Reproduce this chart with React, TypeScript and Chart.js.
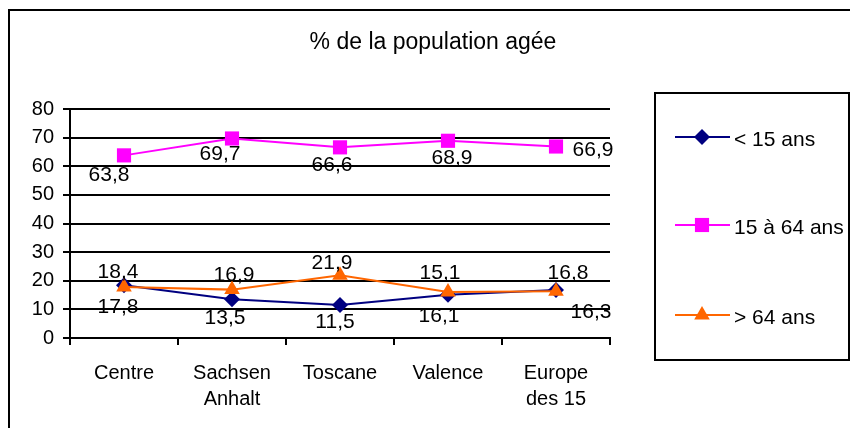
import React, { useEffect, useRef } from "react";
import { Chart, registerables } from "chart.js";

Chart.register(...registerables);

const categories: (string | string[])[] = ["Centre", ["Sachsen", "Anhalt"], "Toscane", "Valence", ["Europe", "des 15"]];
const seriesNames = ["< 15 ans", "15 à 64 ans", "> 64 ans"];
const under15 = [18.4, 13.5, 11.5, 15.1, 16.8];
const age15to64 = [63.8, 69.7, 66.6, 68.9, 66.9];
const over64 = [17.8, 16.9, 21.9, 16.1, 16.3];
const yTicks = [0, 10, 20, 30, 40, 50, 60, 70, 80];
const titleText = "% de la population agée";

// label placement (pixel offsets from each point), kept apart from the values
const labelOffsets: [number, number][][] = [
  [[-6, -13], [-7, 19], [-5, 17], [-8, -22], [12, -17]],
  [[-15, 20], [-12, 15.5], [-8, 18], [4, 17], [37, 4]],
  [[-6, 20], [2, -14], [-8, -12], [-9, 24], [35, 21]],
];

const colors = ["#000080", "#FF00FF", "#FF6600"];
const shapes = ["rectRot", "rect", "triangle"];
const radii = [8, 10, 9];
const FONT = "'Liberation Sans', Arial, sans-serif";

function drawMarker(ctx: CanvasRenderingContext2D, shape: string, x: number, y: number, r: number, color: string) {
  ctx.save();
  ctx.fillStyle = color;
  ctx.beginPath();
  if (shape === "rectRot") {
    ctx.moveTo(x, y - r);
    ctx.lineTo(x + r, y);
    ctx.lineTo(x, y + r);
    ctx.lineTo(x - r, y);
  } else if (shape === "rect") {
    const s = Math.SQRT1_2 * r;
    ctx.rect(x - s, y - s, 2 * s, 2 * s);
  } else {
    for (let i = 0; i < 3; i++) {
      const a = (i * 2 * Math.PI) / 3;
      const px = x + Math.sin(a) * r;
      const py = y - Math.cos(a) * r;
      if (i === 0) ctx.moveTo(px, py);
      else ctx.lineTo(px, py);
    }
  }
  ctx.closePath();
  ctx.fill();
  ctx.restore();
}

const decorPlugin = {
  id: "decor",
  beforeDraw(chart: any) {
    const ctx = chart.ctx as CanvasRenderingContext2D;
    ctx.save();
    ctx.fillStyle = "#fff";
    ctx.fillRect(0, 0, chart.width, chart.height);
    ctx.strokeStyle = "#000";
    ctx.lineWidth = 2;
    ctx.strokeRect(9, 10, 900, 500);
    ctx.fillStyle = "#000";
    ctx.font = `23px ${FONT}`;
    ctx.textAlign = "center";
    ctx.textBaseline = "middle";
    ctx.fillText(titleText, 433, 43);
    ctx.restore();
  },
  afterDatasetsDraw(chart: any) {
    const ctx = chart.ctx as CanvasRenderingContext2D;
    ctx.save();
    ctx.fillStyle = "#000";
    ctx.font = `21px ${FONT}`;
    ctx.textAlign = "center";
    ctx.textBaseline = "middle";
    chart.data.datasets.forEach((ds: any, di: number) => {
      const meta = chart.getDatasetMeta(di);
      meta.data.forEach((pt: any, i: number) => {
        const [dx, dy] = labelOffsets[di][i];
        const txt = Number(ds.data[i]).toFixed(1).replace(".", ",");
        ctx.fillText(txt, pt.x + dx, pt.y + dy);
      });
    });
    ctx.restore();

    // legend
    ctx.save();
    ctx.strokeStyle = "#000";
    ctx.lineWidth = 2;
    ctx.strokeRect(655, 93, 194, 267);
    const ys = [137, 225, 315];
    seriesNames.forEach((name, i) => {
      const y = ys[i];
      ctx.strokeStyle = colors[i];
      ctx.lineWidth = 2;
      ctx.beginPath();
      ctx.moveTo(675, y);
      ctx.lineTo(730, y);
      ctx.stroke();
      drawMarker(ctx, shapes[i], 702, y, radii[i], colors[i]);
      ctx.fillStyle = "#000";
      ctx.font = `21px ${FONT}`;
      ctx.textAlign = "left";
      ctx.textBaseline = "middle";
      ctx.fillText(name, 734, y + 3);
    });
    ctx.restore();
  },
};

export default function App() {
  const ref = useRef<HTMLCanvasElement | null>(null);
  useEffect(() => {
    if (!ref.current) return;
    const seriesValues = [under15, age15to64, over64];
    const chart = new Chart(ref.current, {
      type: "line",
      data: {
        labels: categories,
        datasets: seriesValues.map((vals, i) => ({
          label: seriesNames[i],
          data: vals,
          borderColor: colors[i],
          backgroundColor: colors[i],
          borderWidth: 2,
          pointStyle: shapes[i] as any,
          pointRadius: radii[i],
          pointBorderWidth: 0,
          pointBackgroundColor: colors[i],
          pointBorderColor: colors[i],
          tension: 0,
          fill: false,
          order: [2, 1, 0][i],
        })),
      },
      options: {
        animation: false,
        responsive: false,
        devicePixelRatio: 1,
        layout: { padding: { left: 0, right: 240, top: 109, bottom: 0 } },
        plugins: {
          legend: { display: false },
          tooltip: { enabled: false },
          title: { display: false },
        },
        scales: {
          x: {
            offset: true,
            afterFit: (s: any) => {
              s.height = 90;
            },
            grid: {
              offset: true,
              drawOnChartArea: false,
              drawTicks: true,
              tickLength: 7,
              color: "#000",
              lineWidth: 2,
            },
            border: { color: "#000", width: 2 },
            ticks: {
              color: "#000",
              font: { family: FONT, size: 20, lineHeight: 1.3 },
              padding: 15,
              maxRotation: 0,
              autoSkip: false,
            },
          },
          y: {
            min: yTicks[0],
            max: yTicks[yTicks.length - 1],
            afterFit: (s: any) => {
              s.width = 70;
            },
            afterBuildTicks: (s: any) => {
              s.ticks = yTicks.map((v) => ({ value: v }));
            },
            grid: {
              color: "#000",
              lineWidth: 2,
              drawTicks: true,
              tickLength: 7,
            },
            border: { color: "#000", width: 2 },
            ticks: {
              color: "#000",
              font: { family: FONT, size: 20 },
              padding: 9,
            },
          },
        },
      },
      plugins: [decorPlugin],
    });
    return () => chart.destroy();
  }, []);
  return (
    <div style={{ position: "absolute", left: 0, top: 0, width: 850, height: 428 }}>
      <canvas ref={ref} width={850} height={428} style={{ display: "block" }} />
    </div>
  );
}
